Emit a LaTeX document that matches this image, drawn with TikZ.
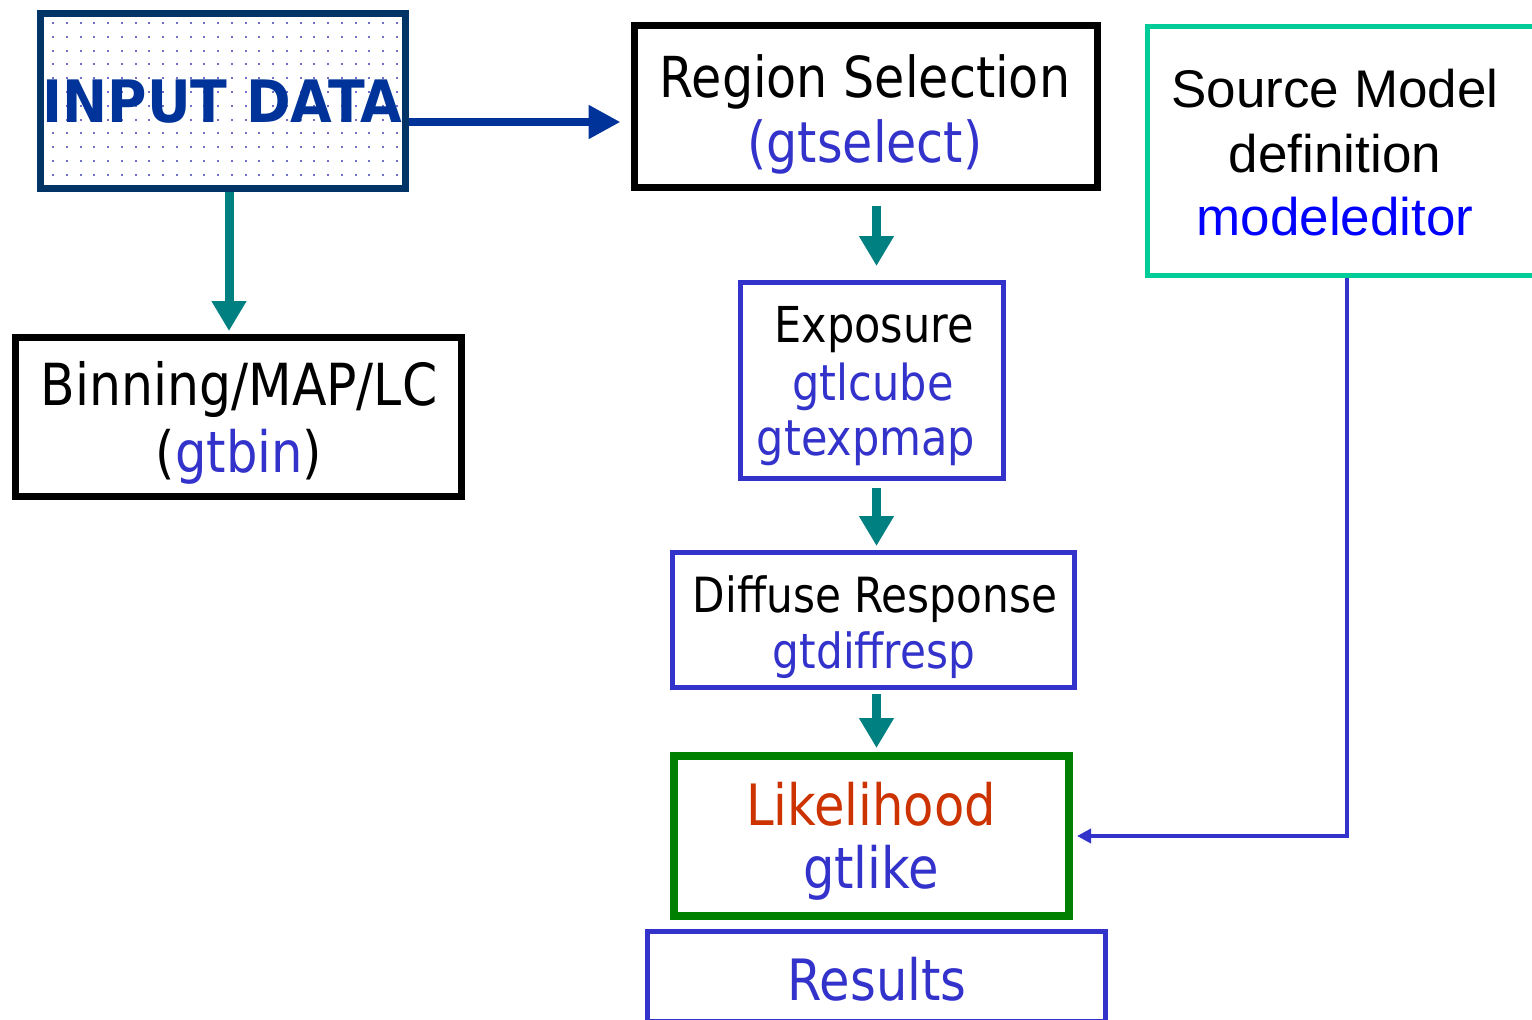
\documentclass[tikz,border=0pt]{standalone}
\usepackage{fontspec}
\setmainfont[FakeStretch=0.87]{DejaVu Sans}
\newfontfamily\inputfont[FakeStretch=0.92]{DejaVu Sans}
\newfontfamily\arialfont{Liberation Sans}
\usetikzlibrary{arrows.meta}
\definecolor{navy}{HTML}{003366}
\definecolor{inblue}{HTML}{003399}
\definecolor{tblue}{HTML}{3333CC}
\definecolor{tealc}{HTML}{008080}
\definecolor{grn}{HTML}{008000}
\definecolor{mint}{HTML}{00CC99}
\definecolor{lred}{HTML}{CC3300}
\definecolor{pureblue}{HTML}{0000FF}
\definecolor{dotc}{HTML}{7070C8}
\begin{document}
\begin{tikzpicture}[x=1pt,y=-1pt,
  box/.style={draw, rectangle, inner sep=0pt},
  lbl/.style={anchor=base, inner sep=0pt},
  tealarrow/.style={draw=tealc, line width=9pt, -{Triangle[width=33pt,length=30pt]}},
  navyarrow/.style={draw=inblue, line width=8pt, -{Triangle[width=32pt,length=32pt]}},
  bluearrow/.style={draw=tblue, line width=4pt, -{Triangle[width=14pt,length=14pt]}},
]
\useasboundingbox (0,0) rectangle (1532,1020);
\clip (0,0) rectangle (1532,1020);
\fill[white] (0,0) rectangle (1532,1020);

% dotted fill of the input box
\foreach \i in {0,...,25}{
  \foreach \j in {0,...,11}{
    \fill[dotc] (52+\i*13.75,24+\j*13.8) rectangle ++(2,-2);
  }
}

% boxes
\node[box, draw=navy, line width=7pt, minimum width=365pt, minimum height=175pt] (input) at (222.5,100.5) {};
\node[box, draw=black, line width=7pt, minimum width=463pt, minimum height=162pt] (region) at (865.5,106) {};
\node[box, draw=mint, line width=5pt, minimum width=400pt, minimum height=249pt] (source) at (1347.5,151) {};
\node[box, draw=black, line width=7pt, minimum width=446pt, minimum height=159pt] (binning) at (238.5,417) {};
\node[box, draw=tblue, line width=5pt, minimum width=263pt, minimum height=196pt] (exposure) at (872,380.5) {};
\node[box, draw=tblue, line width=5pt, minimum width=402pt, minimum height=135pt] (diffuse) at (873.5,620) {};
\node[box, draw=grn, line width=8pt, minimum width=395pt, minimum height=160pt] (likelihood) at (871.5,836) {};
\node[box, draw=tblue, line width=5pt, minimum width=458pt, minimum height=90pt] (results) at (876.5,976) {};

% texts
\node[lbl, text=inblue, font=\inputfont\bfseries\fontsize{58.5}{60}\selectfont] (inputT) at (222.5,122) {INPUT DATA};

\node[lbl, font=\fontsize{56.5}{60}\selectfont] (regionA) at (865,97) {Region Selection};
\node[lbl, text=tblue, font=\fontsize{56.5}{60}\selectfont] (regionB) at (865,162) {(gtselect)};

\node[lbl, font=\arialfont\fontsize{53}{60}\selectfont] (sourceA) at (1335,107) {Source Model};
\node[lbl, font=\arialfont\fontsize{53}{60}\selectfont] (sourceB) at (1335,172) {definition};
\node[lbl, text=pureblue, font=\arialfont\fontsize{53}{60}\selectfont] (sourceC) at (1335,235) {modeleditor};

\node[lbl, font=\fontsize{58}{60}\selectfont] (binA) at (239,405) {Binning/MAP/LC};
\node[lbl, font=\fontsize{57}{60}\selectfont] (binB) at (239,472) {(\textcolor{tblue}{gtbin})};

\node[lbl, font=\fontsize{49.5}{60}\selectfont] (expA) at (874,342) {Exposure};
\node[lbl, text=tblue, font=\fontsize{49.5}{60}\selectfont] (expB) at (873,400) {gtlcube};
\node[lbl, text=tblue, font=\fontsize{49.5}{60}\selectfont] (expC) at (866,455) {gtexpmap};

\node[lbl, font=\fontsize{48.5}{60}\selectfont] (difA) at (875,612) {Diffuse Response};
\node[lbl, text=tblue, font=\fontsize{48.5}{60}\selectfont] (difB) at (874,668) {gtdiffresp};

\node[lbl, text=lred, font=\fontsize{57}{60}\selectfont] (likA) at (871,825) {Likelihood};
\node[lbl, text=tblue, font=\fontsize{57}{60}\selectfont] (likB) at (871,888) {gtlike};

\node[lbl, text=tblue, font=\fontsize{57}{60}\selectfont] (resA) at (877,1000) {Results};

% connectors
\coordinate (inA) at ([yshift=-21.5pt]input.east);
\draw[navyarrow, shorten >=10pt] (inA) -- (inA -| region.west);

\coordinate (col) at (876.5,0);
\draw[tealarrow, shorten <=15pt, shorten >=14pt] (region.south -| col) -- (exposure.north -| col);
\draw[tealarrow, shorten <=7pt, shorten >=4pt] (exposure.south -| col) -- (diffuse.north -| col);
\draw[tealarrow, shorten <=4pt, shorten >=4pt] (diffuse.south -| col) -- (likelihood.north -| col);

\coordinate (bcol) at (229,0);
\draw[tealarrow, shorten >=3pt] (input.south -| bcol) -- (binning.north -| bcol);

\coordinate (scol) at (1347,0);
\draw[bluearrow, shorten >=4pt] (source.south -| scol) |- (likelihood.east);
\end{tikzpicture}
\end{document}
